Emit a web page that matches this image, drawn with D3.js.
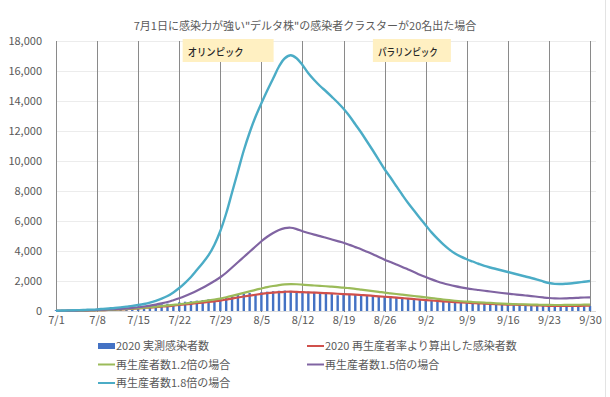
<!DOCTYPE html>
<html><head><meta charset="utf-8">
<script src="https://cdn.jsdelivr.net/npm/d3@7"></script>
<style>
html,body{margin:0;padding:0;background:#fff;}
svg{display:block;font-family:"Noto Sans CJK JP","Noto Sans",sans-serif;}
</style></head>
<body><svg id="c" width="610" height="397"></svg>
<script>
const title = '7月1日に感染力が強い"デルタ株"の感染者クラスターが20名出た場合';
const startDate = new Date(2020, 6, 1);
const dayCount = 92;
const xTickLabels = ["7/1","7/8","7/15","7/22","7/29","8/5","8/12","8/19","8/26","9/2","9/9","9/16","9/23","9/30"];
const yTicks = [0,2000,4000,6000,8000,10000,12000,14000,16000,18000];

const seriesNames = ["2020 実測感染者数","2020 再生産者率より算出した感染者数","再生産者数1.2倍の場合","再生産者数1.5倍の場合","再生産者数1.8倍の場合"];

const actual2020 = [60,70,80,75,90,100,85, 110,130,150,170,190,210,180, 290,330,370,410,450,490,430,
 580,620,650,690,730,780,700, 850,920,1000,1080,1150,1200,1120, 1250,1290,1320,1350,1360,1340,1300,
 1300,1290,1280,1250,1220,1200,1050, 1080,1150,1120,1100,1060,1030,950, 950,980,940,900,870,840,780,
 760,740,700,680,640,600,540, 520,510,490,480,460,450,420, 430,420,410,400,390,380,350,
 350,350,340,340,335,330,320, 330];

const calc2020 = [5,10,15,20,25,30,40, 50,60,70,85,100,120,145, 170,200,230,260,290,320,360,
 400,440,480,520,560,600,645, 695,760,830,900,965,1025,1085, 1140,1190,1230,1260,1280,1290,1275,
 1255,1240,1225,1210,1190,1170,1150, 1130,1110,1090,1065,1040,1010,980, 950,920,890,860,830,795,760,
 730,700,670,640,615,590,570, 550,530,510,490,472,456,442, 430,420,410,400,390,375,360,
 345,335,333,335,340,345,350, 350];

const r12 = [5,10,15,20,25,30,40, 50,60,75,90,110,130,160, 190,220,250,290,330,370,410,
 450,500,550,600,650,705,765, 830,915,1010,1110,1210,1310,1410, 1500,1590,1665,1730,1775,1795,1785,
 1755,1725,1700,1675,1650,1620,1590, 1560,1520,1480,1430,1380,1330,1280, 1225,1180,1135,1090,1045,1000,955,
 910,860,810,765,722,685,650, 620,598,578,558,538,512,490, 472,460,450,440,430,420,410,
 403,400,400,405,410,415,420, 420];

const r15 = [10,15,20,25,35,45,55, 70,85,100,120,140,170,210, 250,300,360,430,510,600,720,
 850,1000,1170,1350,1550,1770,2000, 2250,2550,2900,3250,3600,3950,4300, 4650,4950,5200,5400,5520,5550,5460,
 5320,5200,5090,4990,4880,4770,4660, 4550,4410,4260,4110,3950,3790,3600, 3420,3260,3100,2940,2770,2600,2420,
 2260,2110,1970,1850,1750,1660,1580, 1510,1450,1400,1350,1300,1250,1200, 1155,1115,1075,1035,995,950,905,
 865,840,835,845,860,880,900, 910];

const r18 = [20,30,40,50,60,75,90, 110,140,170,200,240,290,340, 400,470,560,680,820,1000,1240,
 1530,1880,2270,2730,3200,3720,4420, 5330,6500,7900,9300,10700,11900,12950, 13850,14700,15500,16300,16850,17050,16850,
 16400,15850,15400,15000,14650,14280,13900, 13480,13000,12450,11900,11300,10700,10080, 9450,8900,8320,7750,7200,6700,6200,
 5720,5240,4820,4440,4110,3830,3620, 3450,3300,3150,3010,2900,2800,2700, 2600,2500,2400,2300,2200,2090,1970,
 1870,1810,1800,1820,1850,1900,1950, 2000];

const events = [
  {label:"オリンピック", from:21.6, to:37.1},
  {label:"パラリンピック", from:54.0, to:67.3}
];

const colors = {bar:"#4472C4", calc:"#D0504B", r12:"#9BBB59", r15:"#8064A2", r18:"#4BACC6"};

const svg = d3.select("#c");
const days = d3.range(dayCount).map(i => d3.timeDay.offset(startDate, i));
const x = d3.scaleTime().domain([days[0], days[dayCount-1]]).range([56, 590]);
const y = d3.scaleLinear().domain([0, 18000]).range([311, 41]);
const plotRight = 596;

svg.append("text").attr("x", 305).attr("y", 30).attr("text-anchor","middle")
  .attr("font-size", 11).attr("fill","#595959").text(title);

svg.append("line").attr("x1",605.5).attr("x2",605.5).attr("y1",0).attr("y2",397)
  .attr("stroke","#e3e3e3");

svg.append("g").selectAll("line").data(yTicks).join("line")
  .attr("x1", 56).attr("x2", plotRight)
  .attr("y1", d => Math.round(y(d))+0.5).attr("y2", d => Math.round(y(d))+0.5)
  .attr("stroke", d => d===0 ? "#d9d9d9" : "#ececec").attr("stroke-width",1);

const yAxis = d3.axisLeft(y).tickValues(yTicks).tickFormat(d3.format(",")).tickSize(0).tickPadding(0);
const gy = svg.append("g").attr("transform","translate(42,0)").call(yAxis);
gy.select(".domain").remove();
gy.selectAll("text").attr("font-size",11).attr("fill","#595959")
  .attr("font-family",'"Noto Sans CJK JP","Noto Sans",sans-serif');

const parseTick = s => { const [m,d] = s.split("/").map(Number); return new Date(2020, m-1, d); };
const dayX = v => x(d3.timeHour.offset(startDate, v*24));
const ev = svg.append("g");
ev.selectAll("rect").data(events).join("rect")
  .attr("x", d => dayX(d.from)).attr("width", d => dayX(d.to)-dayX(d.from))
  .attr("y", y(18000)-2).attr("height", 23).attr("fill","#FFF0C2");

const tickDates = xTickLabels.map(parseTick);
svg.append("g").selectAll("line").data(tickDates).join("line")
  .attr("x1", d => Math.round(x(d))+0.5).attr("x2", d => Math.round(x(d))+0.5)
  .attr("y1", y(18000)).attr("y2", y(0)+1)
  .attr("stroke","#8a8a8a").attr("stroke-width",1);

ev.selectAll("text").data(events).join("text")
  .attr("x", d => dayX(d.from)+5).attr("y", y(18000)+15)
  .attr("font-size", 10.5).attr("font-weight", 500).attr("fill","#262626")
  .attr("textLength", (d,i) => i===0 ? 56 : 60).attr("lengthAdjust","spacingAndGlyphs")
  .text(d => d.label);
ev.raise();
ev.selectAll("rect").lower();

const xAxis = d3.axisBottom(x).tickValues(tickDates).tickFormat((d,i) => xTickLabels[i]).tickSize(0).tickPadding(0);
const gx = svg.append("g").attr("transform","translate(0,316)").call(xAxis);
gx.select(".domain").remove();
gx.selectAll("text").attr("font-size",11).attr("fill","#595959").attr("dy","0.75em")
  .attr("font-family",'"Noto Sans CJK JP","Noto Sans",sans-serif');

const bw = 2.4;
svg.append("g").selectAll("rect").data(actual2020).join("rect")
  .attr("x", (d,i) => x(days[i]) - bw/2).attr("width", bw)
  .attr("y", d => y(d)).attr("height", d => y(0)-y(d))
  .attr("fill", colors.bar);

const line = d3.line().x((d,i) => x(days[i])).y(d => y(d)).curve(d3.curveCatmullRom.alpha(0.5));
const lineSeries = [
  {vals:calc2020, c:colors.calc, w:2.2},
  {vals:r12, c:colors.r12, w:2.2},
  {vals:r15, c:colors.r15, w:2.2},
  {vals:r18, c:colors.r18, w:2.4}
];
svg.append("g").selectAll("path").data(lineSeries).join("path")
  .attr("d", d => line(d.vals)).attr("fill","none")
  .attr("stroke", d => d.c).attr("stroke-width", d => d.w).attr("stroke-linejoin","round");

const legendItems = [
  {name:seriesNames[0], c:colors.bar, type:"bar", col:0, row:0},
  {name:seriesNames[1], c:colors.calc, type:"line", col:1, row:0},
  {name:seriesNames[2], c:colors.r12, type:"line", col:0, row:1},
  {name:seriesNames[3], c:colors.r15, type:"line", col:1, row:1},
  {name:seriesNames[4], c:colors.r18, type:"line", col:0, row:2}
];
const lg = svg.append("g").selectAll("g").data(legendItems).join("g")
  .attr("transform", d => `translate(${d.col ? 307 : 98},${346 + d.row*18.5})`);
lg.filter(d => d.type==="bar").append("rect").attr("x",0).attr("y",-3).attr("width",17).attr("height",6).attr("fill", d => d.c);
lg.filter(d => d.type==="line").append("line").attr("x1",0).attr("x2",17).attr("y1",0).attr("y2",0)
  .attr("stroke", d => d.c).attr("stroke-width",2);
lg.append("text").attr("x",18).attr("y",4).attr("font-size",11).attr("fill","#595959").text(d => d.name);
</script></body></html>
